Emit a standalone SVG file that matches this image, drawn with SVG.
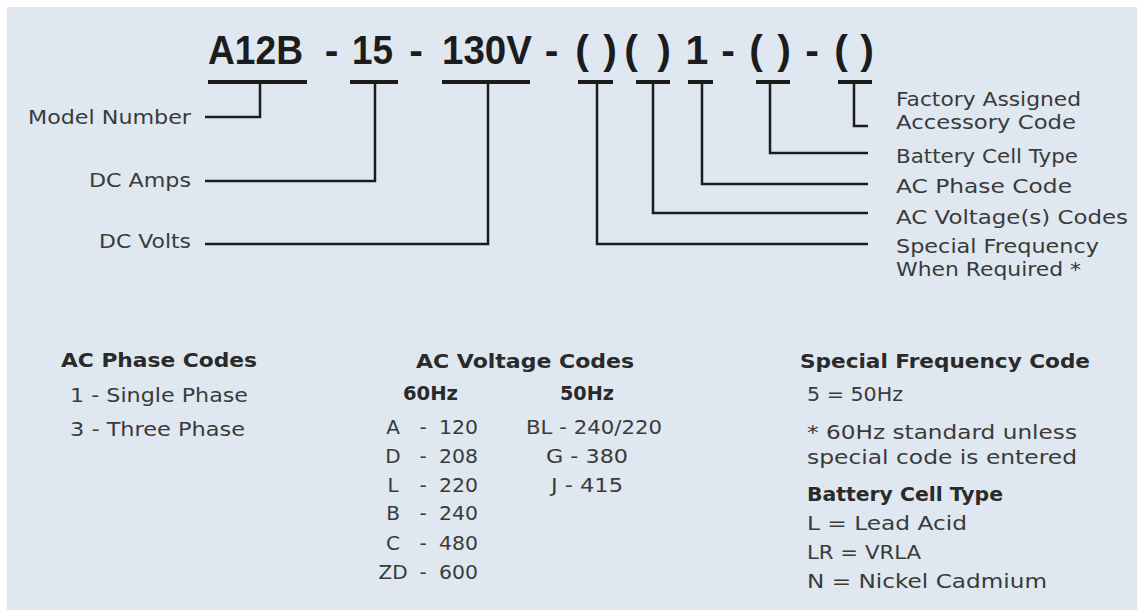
<svg xmlns="http://www.w3.org/2000/svg" width="1137" height="610" viewBox="0 0 1137 610">
<style>
.title{font-family:"Liberation Sans",Arial,sans-serif;font-weight:bold;font-size:41px;fill:#1c1c1c}
.lbl{font-family:"DejaVu Sans","Liberation Sans",sans-serif;font-size:20px;fill:#3a3a3a}
.sm{font-size:19.5px}
.hd{font-family:"DejaVu Sans","Liberation Sans",sans-serif;font-weight:bold;font-size:19px;fill:#2a2a2a}
.bar{stroke:#1c1c1c;stroke-width:4;fill:none}
.ln{stroke:#1c1c1c;stroke-width:2.5;fill:none}
</style>
<rect x="0" y="0" width="1137" height="610" fill="#ffffff"/>
<rect x="7" y="7" width="1130" height="603" fill="#dfe8f0"/>

<g id="title">
<text class="title" x="208" y="64" textLength="95" lengthAdjust="spacingAndGlyphs">A12B</text>
<text class="title" x="331.5" y="64" text-anchor="middle">-</text>
<text class="title" x="352" y="64" textLength="41" lengthAdjust="spacingAndGlyphs">15</text>
<text class="title" x="416" y="64" text-anchor="middle">-</text>
<text class="title" x="442" y="64" textLength="90" lengthAdjust="spacingAndGlyphs">130V</text>
<text class="title" x="551.5" y="64" text-anchor="middle">-</text>
<text class="title" x="582" y="64" text-anchor="middle">(</text>
<text class="title" x="610" y="64" text-anchor="middle">)</text>
<text class="title" x="631" y="64" text-anchor="middle">(</text>
<text class="title" x="664" y="64" text-anchor="middle">)</text>
<text class="title" x="697" y="64" text-anchor="middle">1</text>
<text class="title" x="728" y="64" text-anchor="middle">-</text>
<text class="title" x="756" y="64" text-anchor="middle">(</text>
<text class="title" x="784" y="64" text-anchor="middle">)</text>
<text class="title" x="812" y="64" text-anchor="middle">-</text>
<text class="title" x="841" y="64" text-anchor="middle">(</text>
<text class="title" x="867" y="64" text-anchor="middle">)</text>
</g>

<g id="connectors">
<line class="bar" x1="208" y1="82" x2="307" y2="82"/>
<line class="bar" x1="350" y1="82" x2="398" y2="82"/>
<line class="bar" x1="442" y1="82" x2="530" y2="82"/>
<line class="bar" x1="578" y1="82" x2="613" y2="82"/>
<line class="bar" x1="636" y1="82" x2="670" y2="82"/>
<line class="bar" x1="688" y1="82" x2="713" y2="82"/>
<line class="bar" x1="756" y1="82" x2="790" y2="82"/>
<line class="bar" x1="838" y1="82" x2="872" y2="82"/>
<polyline class="ln" points="260,82 260,117 205,117"/>
<polyline class="ln" points="375,82 375,181 205,181"/>
<polyline class="ln" points="488,82 488,244 205,244"/>
<polyline class="ln" points="597,82 597,244 868,244"/>
<polyline class="ln" points="653,82 653,213 868,213"/>
<polyline class="ln" points="702,82 702,184 868,184"/>
<polyline class="ln" points="770,82 770,153 868,153"/>
<polyline class="ln" points="854,82 854,126 868,126"/>
</g>

<g id="model-number"><text class="lbl" x="191" y="124" text-anchor="end" textLength="163" lengthAdjust="spacingAndGlyphs">Model Number</text></g>
<g id="dc-amps"><text class="lbl" x="191" y="187" text-anchor="end" textLength="102" lengthAdjust="spacingAndGlyphs">DC Amps</text></g>
<g id="dc-volts"><text class="lbl" x="191" y="248" text-anchor="end" textLength="92" lengthAdjust="spacingAndGlyphs">DC Volts</text></g>

<g id="factory-code">
<text class="lbl sm" x="896" y="106" textLength="185" lengthAdjust="spacingAndGlyphs">Factory Assigned</text>
<text class="lbl sm" x="896" y="129" textLength="180" lengthAdjust="spacingAndGlyphs">Accessory Code</text>
</g>
<g id="battery-cell"><text class="lbl" x="896" y="163" textLength="182" lengthAdjust="spacingAndGlyphs">Battery Cell Type</text></g>
<g id="ac-phase"><text class="lbl" x="896" y="193" textLength="176" lengthAdjust="spacingAndGlyphs">AC Phase Code</text></g>
<g id="ac-voltage"><text class="lbl" x="896" y="224" textLength="232" lengthAdjust="spacingAndGlyphs">AC Voltage(s) Codes</text></g>
<g id="special-frequency">
<text class="lbl sm" x="896" y="253" textLength="203" lengthAdjust="spacingAndGlyphs">Special Frequency</text>
<text class="lbl sm" x="896" y="276" textLength="185" lengthAdjust="spacingAndGlyphs">When Required *</text>
</g>

<g id="ac-phase-codes">
<text class="hd" x="61" y="367" textLength="196" lengthAdjust="spacingAndGlyphs">AC Phase Codes</text>
<text class="lbl" x="70" y="402" textLength="178" lengthAdjust="spacingAndGlyphs">1 - Single Phase</text>
<text class="lbl" x="70" y="436" textLength="175" lengthAdjust="spacingAndGlyphs">3 - Three Phase</text>
</g>

<g id="ac-voltage-codes">
<text class="hd" x="416" y="368" textLength="218" lengthAdjust="spacingAndGlyphs">AC Voltage Codes</text>
<text class="hd" x="403" y="400" textLength="55" lengthAdjust="spacingAndGlyphs">60Hz</text>
<text class="hd" x="560" y="400" textLength="54" lengthAdjust="spacingAndGlyphs">50Hz</text>
<text class="lbl" x="393" y="434" text-anchor="middle">A</text>
<text class="lbl" x="393" y="463" text-anchor="middle">D</text>
<text class="lbl" x="393" y="492" text-anchor="middle">L</text>
<text class="lbl" x="393" y="520" text-anchor="middle">B</text>
<text class="lbl" x="393" y="550" text-anchor="middle">C</text>
<text class="lbl" x="393" y="579" text-anchor="middle">ZD</text>
<text class="lbl" x="423" y="434" text-anchor="middle">-</text>
<text class="lbl" x="423" y="463" text-anchor="middle">-</text>
<text class="lbl" x="423" y="492" text-anchor="middle">-</text>
<text class="lbl" x="423" y="520" text-anchor="middle">-</text>
<text class="lbl" x="423" y="550" text-anchor="middle">-</text>
<text class="lbl" x="423" y="579" text-anchor="middle">-</text>
<text class="lbl" x="439" y="434" textLength="39" lengthAdjust="spacingAndGlyphs">120</text>
<text class="lbl" x="439" y="463" textLength="39" lengthAdjust="spacingAndGlyphs">208</text>
<text class="lbl" x="439" y="492" textLength="39" lengthAdjust="spacingAndGlyphs">220</text>
<text class="lbl" x="439" y="520" textLength="39" lengthAdjust="spacingAndGlyphs">240</text>
<text class="lbl" x="439" y="550" textLength="39" lengthAdjust="spacingAndGlyphs">480</text>
<text class="lbl" x="439" y="579" textLength="39" lengthAdjust="spacingAndGlyphs">600</text>
<text class="lbl" x="526" y="434" textLength="136" lengthAdjust="spacingAndGlyphs">BL - 240/220</text>
<text class="lbl" x="546" y="463" textLength="82" lengthAdjust="spacingAndGlyphs">G - 380</text>
<text class="lbl" x="551" y="492" textLength="72" lengthAdjust="spacingAndGlyphs">J - 415</text>
</g>

<g id="special-frequency-code">
<text class="hd" x="800" y="368" textLength="290" lengthAdjust="spacingAndGlyphs">Special Frequency Code</text>
<text class="lbl" x="807" y="401" textLength="96" lengthAdjust="spacingAndGlyphs">5 = 50Hz</text>
<text class="lbl" x="807" y="439" textLength="270" lengthAdjust="spacingAndGlyphs">* 60Hz standard unless</text>
<text class="lbl" x="807" y="464" textLength="270" lengthAdjust="spacingAndGlyphs">special code is entered</text>
</g>

<g id="battery-cell-type">
<text class="hd" x="807" y="501" textLength="196" lengthAdjust="spacingAndGlyphs">Battery Cell Type</text>
<text class="lbl" x="807" y="530" textLength="160" lengthAdjust="spacingAndGlyphs">L = Lead Acid</text>
<text class="lbl" x="807" y="559" textLength="114" lengthAdjust="spacingAndGlyphs">LR = VRLA</text>
<text class="lbl" x="807" y="588" textLength="240" lengthAdjust="spacingAndGlyphs">N = Nickel Cadmium</text>
</g>
</svg>
